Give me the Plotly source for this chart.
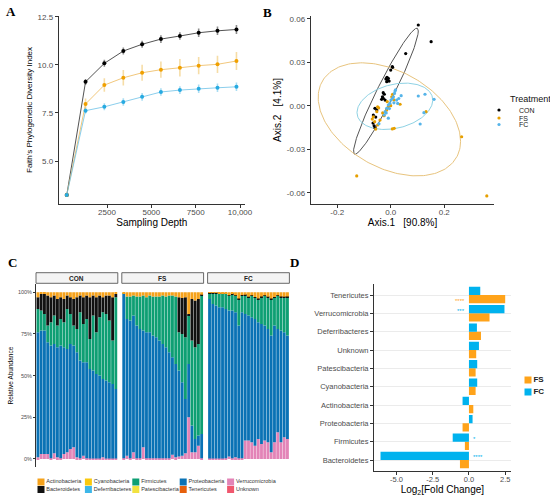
import numpy as np
import plotly.graph_objects as go

FONT = "Liberation Sans, Arial, sans-serif"
W, H = 550, 497

# ---------------- A: rarefaction, Faith's PD ----------------
depth = [230, 1290, 2350, 3420, 4480, 5540, 6610, 7670, 8730, 9800]
pd_con = [3.24, 9.12, 10.08, 10.72, 11.07, 11.34, 11.50, 11.67, 11.77, 11.84]
pd_fs = [3.24, 7.97, 8.95, 9.33, 9.59, 9.75, 9.85, 9.96, 10.03, 10.20]
pd_fc = [3.24, 7.62, 7.82, 8.07, 8.34, 8.59, 8.69, 8.76, 8.81, 8.86]
se_con = [0.05, 0.15, 0.18, 0.18, 0.18, 0.20, 0.20, 0.22, 0.22, 0.23]
se_fs = [0.05, 0.28, 0.35, 0.40, 0.42, 0.42, 0.45, 0.45, 0.45, 0.47]
se_fc = [0.05, 0.15, 0.18, 0.20, 0.20, 0.20, 0.20, 0.22, 0.22, 0.22]

# ---------------- B: PCoA ----------------
con_x = [0.103, 0.151, 0.056, 0.006, 0.000, 0.007, -0.014, -0.009, -0.011, -0.006, -0.015, -0.018, -0.028,
         -0.024, -0.031, -0.028, -0.021, -0.034, -0.059, -0.052, -0.065, -0.056, -0.062, -0.059, -0.066]
con_y = [0.0557, 0.0442, 0.0360, 0.0270, 0.0246, 0.0265, 0.0196, 0.0189, 0.0177, 0.0170, 0.0166, 0.0185, 0.0090,
         0.0079, 0.0062, 0.0051, 0.0039, 0.0044, -0.0018, -0.0030, -0.0064, -0.0078, -0.0138, -0.0152, -0.0120]
fs_x = [-0.127, 0.359, 0.265, 0.132, 0.035, 0.006, -0.049, -0.045, -0.052, -0.065, -0.069, -0.040, -0.049,
        -0.056, -0.013, -0.009, -0.015, 0.004, 0.007, 0.013, -0.025, 0.000, -0.030, 0.012, -0.060]
fs_y = [-0.0484, -0.0622, -0.0214, -0.0041, 0.0010, -0.0160, -0.0007, -0.0015, -0.0041, -0.0076, -0.0092, -0.0099, -0.0133,
        -0.0161, 0.0028, -0.0007, -0.0030, 0.0062, 0.0079, -0.0156, -0.0069, 0.0000, -0.0050, 0.0040, -0.0110]
fc_x = [0.016, 0.014, 0.010, 0.006, 0.001, -0.003, -0.009, -0.015, -0.021, -0.017, -0.024, 0.039, 0.026,
        0.103, 0.128, 0.162, 0.124, 0.110, -0.044, -0.009, 0.022, 0.018, 0.012, -0.005, 0.030]
fc_y = [0.0101, 0.0085, 0.0062, 0.0050, 0.0039, 0.0016, 0.0005, -0.0018, -0.0041, -0.0050, -0.0064, 0.0069, 0.0016,
        0.0067, 0.0079, 0.0044, -0.0048, -0.0126, -0.0125, -0.0086, 0.0039, 0.0110, 0.0020, -0.0020, 0.0050]
# 95% ellipses: centre, half-range on each axis, phase between x and y
ell_cx = [-0.018, -0.005, 0.0155]
ell_cy = [0.010, -0.0094, -0.0004]
ell_rx = [0.121, 0.266, 0.1415]
ell_ry = [0.0435, 0.039, 0.016]
ell_phase = [0.30, 1.97, 1.30]

# ---------------- C: relative abundance (%) per sample ----------------
con_verruco = [1, 3, 3, 3, 0.5, 3.5, 1, 0.5, 3, 4, 6, 7, 1, 0.5, 2, 0.5, 0.3, 0.3, 0.3, 0.3, 1, 0.3, 0.3, 0.3, 0.3]
con_proteo = [75, 74, 74, 67, 67.5, 65.5, 66, 67.5, 64, 62, 63, 61, 63, 58.5, 56, 57.5, 53.7, 52.7, 50.7, 49.7, 47,
              46.7, 45.7, 44.7, 41.7]
con_firmi = [14, 12, 10, 10, 14, 17, 13, 16, 15, 24, 18, 12, 14, 29, 23, 26, 18, 33, 25, 35, 40, 40, 37, 26, 55]
con_bacter = [7, 10, 12, 18, 15, 12, 16, 13, 14, 8, 10, 16, 19, 10, 16, 14, 25, 12, 21, 13, 9, 11, 15, 26, 2]
con_actino = [3, 1, 1, 2, 3, 2, 4, 3, 4, 2, 3, 4, 3, 2, 3, 2, 3, 2, 3, 2, 3, 2, 2, 3, 1]

fs_verruco = [0.5, 2, 0.5, 4, 0.5, 0.5, 7, 0.5, 0.5, 0.5, 0.5, 0.5, 0.5, 0.5, 0.5, 2.5, 1, 1.5, 2, 3.5, 25, 4, 4, 8, 0.5]
fs_proteo = [98.5, 82, 82.5, 82, 79.5, 77.5, 70, 75.5, 75.5, 73.5, 72.5, 70.5, 68.5, 66.5, 63.5, 58.5, 56, 51.5, 44,
             32.5, 32, 16, 8, 6, 14.5]
fs_firmi = [0.5, 13.5, 14.5, 12, 17.5, 19.5, 21, 21, 22, 23.5, 24.5, 26.5, 29, 30.5, 34, 37, 40.5, 23, 29, 37, 29, 51,
            55, 55, 83]
fs_bacter = [0, 0, 0, 0, 0, 0, 0, 0, 0, 0, 0, 0, 0, 0, 0, 0, 0, 21, 21.5, 24, 1, 25, 28, 27, 0.5]
fs_actino = [0.5, 2.5, 2.5, 2, 2.5, 2.5, 2, 3, 2, 2.5, 2.5, 2.5, 2, 2.5, 2, 2, 2.5, 3, 3.5, 3, 13, 4, 5, 4, 1.5]

fc_verruco = [0.3, 0.3, 0.3, 0.3, 0.3, 0.5, 1.5, 0.5, 1, 0.5, 0.5, 11, 11, 10, 8, 12, 9, 11, 10, 4, 10, 16, 10, 13, 12]
fc_proteo = [95.7, 92.7, 91.7, 90.7, 90.7, 89.5, 87.5, 88.5, 87, 79.5, 87.5, 76, 75, 75, 76, 70, 72, 69, 68, 70, 70,
             62, 67, 63, 62]
fc_firmi = [3.5, 6.5, 7.5, 8.3, 8, 9, 9, 9.5, 10, 16, 10, 11, 11, 13, 13, 14, 16, 18, 19, 22, 17, 20, 20, 21, 23]
fc_bacter = [0.2, 0.2, 0.2, 0.2, 0.5, 0.2, 0.2, 1, 0.2, 0.2, 0.3, 0.5, 0.3, 0.2, 0.2, 0.2, 0.5, 0.2, 0.3, 0.2, 0.2,
             0.2, 0.5, 0.3, 0.5]
fc_actino = [0.3, 0.3, 0.3, 0.5, 0.5, 0.8, 1.8, 0.5, 1.8, 3.8, 1.7, 1.5, 2.7, 1.8, 2.8, 3.8, 2.5, 1.8, 2.7, 3.8, 2.8,
             1.8, 2.5, 2.7, 2.5]

phyla = ["Actinobacteria", "Bacteroidetes", "Cyanobacteria", "Deferribacteres", "Firmicutes",
         "Patescibacteria", "Proteobacteria", "Tenericutes", "Verrucomicrobia", "Unknown"]
phylum_colors = ["#F5A21C", "#111111", "#F9C80E", "#3DB7E9", "#0E9F73",
                 "#F2E240", "#0A72B5", "#E6600C", "#E384B7", "#F0576E"]
stack_order = ["Verrucomicrobia", "Proteobacteria", "Firmicutes", "Bacteroidetes", "Actinobacteria"]

# ---------------- D: log2 fold change vs CON ----------------
d_phyla = ["Bacteroidetes", "Firmicutes", "Proteobacteria", "Actinobacteria", "Cyanobacteria",
           "Patescibacteria", "Unknown", "Deferribacteres", "Verrucomicrobia", "Tenericutes"]
lfc_fs = [-0.62, -0.28, -0.44, 0.30, 0.46, 0.46, 0.50, 0.83, 1.42, 2.50]
lfc_fc = [-6.10, -1.12, 0.25, -0.44, 0.57, 0.57, 0.69, 0.55, 2.45, 0.78]
sig_fs = ["", "", "", "", "", "", "", "", "", "****"]
sig_fc = ["****", "*", "", "", "", "", "", "", "***", ""]

grp_names = ["CON", "FS", "FC"]
grp_colors = ["#000000", "#E69F00", "#56B4E9"]


def px_x(p):
    return p / W


def px_y(p):
    return 1 - p / H


fig = go.Figure()

# A
line_cols = ["rgba(40,40,40,0.8)", "rgba(236,180,80,0.75)", "rgba(100,190,230,0.75)"]
err_cols = ["rgba(0,0,0,0.45)", "rgba(230,159,0,0.35)", "rgba(40,170,225,0.4)"]
mark_cols = ["#000000", "#F0A000", "#27AAE1"]
for vals, se, lc, ec, mc in zip([pd_con, pd_fs, pd_fc], [se_con, se_fs, se_fc], line_cols, err_cols, mark_cols):
    fig.add_trace(go.Scatter(
        x=depth, y=vals, mode="lines+markers",
        line=dict(color=lc, width=1),
        marker=dict(color=mc, size=4),
        error_y=dict(type="data", array=se, color=ec, thickness=1.6, width=0),
        xaxis="x", yaxis="y", showlegend=False))

# B
t = np.linspace(0, 2 * np.pi, 200)
ell_cols = ["#555555", "#E8C47E", "#8ED2E4"]
for i in range(3):
    fig.add_trace(go.Scatter(
        x=ell_cx[i] + ell_rx[i] * np.cos(t),
        y=ell_cy[i] + ell_ry[i] * np.cos(t - ell_phase[i]),
        mode="lines", line=dict(color=ell_cols[i], width=1),
        xaxis="x2", yaxis="y2", showlegend=False, hoverinfo="skip"))
legend_ids = ["legend", "legend2", "legend3"]
for i, (px_, py_) in enumerate([(con_x, con_y), (fs_x, fs_y), (fc_x, fc_y)]):
    fig.add_trace(go.Scatter(
        x=px_, y=py_, mode="markers", name=grp_names[i],
        marker=dict(color=grp_colors[i], size=3.2),
        xaxis="x2", yaxis="y2", legend=legend_ids[i]))

# C
samples = list(range(1, 26))
abund = {
    "CON": [con_verruco, con_proteo, con_firmi, con_bacter, con_actino],
    "FS": [fs_verruco, fs_proteo, fs_firmi, fs_bacter, fs_actino],
    "FC": [fc_verruco, fc_proteo, fc_firmi, fc_bacter, fc_actino],
}
for gi, g in enumerate(grp_names):
    vals = np.array(abund[g]) / 100.0
    base = np.vstack([np.zeros(len(samples)), np.cumsum(vals, axis=0)[:-1]])
    for k, name in enumerate(stack_order):
        fig.add_trace(go.Bar(
            x=samples, y=vals[k], base=base[k], width=0.88,
            marker=dict(color=phylum_colors[phyla.index(name)], line=dict(width=0)),
            xaxis=f"x{3 + gi}", yaxis="y3", showlegend=False, name=name))

# C key (two rows, filled column-wise like ggplot)
fig.add_trace(go.Scatter(
    x=[i // 2 for i in range(len(phyla))], y=[1 - i % 2 for i in range(len(phyla))],
    mode="markers+text", text=phyla, textposition="middle right",
    textfont=dict(family=FONT, size=5.5, color="#333333"),
    marker=dict(symbol="square", size=7, color=phylum_colors),
    xaxis="x7", yaxis="y7", showlegend=False, cliponaxis=False, hoverinfo="skip"))

# D
d_cols = ["#FFA31A", "#00B2EE"]
for vals, col, off, nm in [(lfc_fs, d_cols[0], -0.45, "FS"), (lfc_fc, d_cols[1], 0.0, "FC")]:
    fig.add_trace(go.Bar(
        y=d_phyla, x=vals, orientation="h", width=0.45, offset=off,
        marker=dict(color=col, line=dict(width=0)), name=nm,
        xaxis="x6", yaxis="y6", showlegend=False))
fig.add_trace(go.Scatter(
    x=[0, 0], y=[1, 0], mode="markers+text", text=["<b>FS</b>", "<b>FC</b>"], textposition="middle right",
    textfont=dict(family=FONT, size=8, color="#222222"),
    marker=dict(symbol="square", size=7, color=d_cols),
    xaxis="x8", yaxis="y8", showlegend=False, cliponaxis=False, hoverinfo="skip"))

annotations = []
for sigs, vals, side, col in [(sig_fs, lfc_fs, -0.225, d_cols[0]), (sig_fc, lfc_fc, 0.225, d_cols[1])]:
    for j, s in enumerate(sigs):
        if not s:
            continue
        pos = vals[j] > 0
        annotations.append(dict(
            x=-0.15 if pos else 0.15, y=j + side, xref="x6", yref="y6", text=s, showarrow=False,
            xanchor="right" if pos else "left", yanchor="middle", yshift=-1.5,
            font=dict(family=FONT, size=6, color=col)))

# panel letters
for letter, (lx, ly) in zip("ABCD", [(10.5, 11.5), (267.5, 12), (12.5, 262), (294, 262)]):
    annotations.append(dict(x=px_x(lx), y=px_y(ly), xref="paper", yref="paper", text=f"<b>{letter}</b>",
                            showarrow=False, xanchor="center", yanchor="middle",
                            font=dict(family="Liberation Serif, Times New Roman, serif", size=13, color="#000")))

# legend heading for B
annotations.append(dict(x=px_x(508), y=px_y(99), xref="paper", yref="paper", text="Treatment",
                        showarrow=False, xanchor="left", yanchor="middle",
                        font=dict(family=FONT, size=9, color="#111")))

# facet strips
shapes = []
strip_y0, strip_y1 = px_y(283.3), px_y(272.7)
for gi, g in enumerate(grp_names):
    shapes.append(dict(type="rect", xref=f"x{3 + gi} domain", yref="paper", x0=0, x1=1, y0=strip_y0, y1=strip_y1,
                       fillcolor="#F4F4F4", line=dict(color="#444444", width=0.8)))
    annotations.append(dict(x=0.5, y=(strip_y0 + strip_y1) / 2, xref=f"x{3 + gi} domain", yref="paper",
                            text=f"<b>{g}</b>", showarrow=False, font=dict(family=FONT, size=6.5, color="#222")))

tick_font = dict(family=FONT, size=8, color="#4D4D4D")
axis_base = dict(showgrid=False, zeroline=False, showline=True, linecolor="#333333", linewidth=1,
                 ticks="outside", ticklen=3, tickcolor="#333333", tickfont=tick_font)
hidden = dict(visible=False, showgrid=False, zeroline=False)

fig.update_layout(
    width=W, height=H,
    margin=dict(l=0, r=0, t=0, b=0, autoexpand=False),
    paper_bgcolor="white", plot_bgcolor="white",
    font=dict(family=FONT, color="#000"),
    barmode="overlay",
    xaxis=dict(axis_base, domain=[px_x(58.7), px_x(245)], range=[-224, 10282], anchor="y",
               tickvals=[2500, 5000, 7500, 10000], ticktext=["2500", "5000", "7500", "10,000"],
               ticklabelstandoff=-3,
               title=dict(text="Sampling Depth", font=dict(size=10), standoff=0)),
    yaxis=dict(axis_base, domain=[px_y(204), px_y(16)], range=[2.77, 12.54], anchor="x",
               tickvals=[5, 7.5, 10, 12.5], ticktext=["5.0", "7.5", "10.0", "12.5"],
               title=dict(text="Faith's Phylogenetic Diversity Index", font=dict(size=8), standoff=3)),
    xaxis2=dict(axis_base, domain=[px_x(310.7), px_x(494.3)], range=[-0.299, 0.387], anchor="y2",
                tickvals=[-0.2, 0, 0.2], ticktext=["-0.2", "0.0", "0.2"],
                ticklabelstandoff=-3,
                title=dict(text="Axis.1   [90.8%]", font=dict(size=10), standoff=0)),
    yaxis2=dict(axis_base, domain=[px_y(204), px_y(16)], range=[-0.0678, 0.0619], anchor="x2",
                tickvals=[-0.06, -0.03, 0, 0.03, 0.06], ticktext=["-0.06", "-0.03", "0.00", "0.03", "0.06"],
                title=dict(text="Axis.2   [4.1%]", font=dict(size=10), standoff=3)),
    xaxis3=dict(hidden, domain=[px_x(36), px_x(117.8)], range=[0.4, 25.6], anchor="y3"),
    xaxis4=dict(hidden, domain=[px_x(121.8), px_x(203.6)], range=[0.4, 25.6], anchor="y3"),
    xaxis5=dict(hidden, domain=[px_x(207.6), px_x(289.4)], range=[0.4, 25.6], anchor="y3"),
    yaxis3=dict(axis_base, domain=[px_y(467.3), px_y(283.9)], range=[-0.05, 1.05], anchor="x3",
                linewidth=0.8, ticklen=2,
                tickvals=[0, 0.25, 0.5, 0.75, 1], ticktext=["0%", "25%", "50%", "75%", "100%"],
                tickfont=dict(family=FONT, size=5.5, color="#4D4D4D"),
                title=dict(text="Relative Abundance", font=dict(size=6.5), standoff=3)),
    xaxis6=dict(axis_base, domain=[px_x(374), px_x(510.7)], range=[-6.55, 2.88], anchor="y6",
                tickvals=[-5, -2.5, 0, 2.5], ticktext=["-5.0", "-2.5", "0.0", "2.5"],
                tickfont=dict(family=FONT, size=7.5, color="#4D4D4D"), ticklabelstandoff=-2,
                title=dict(text="Log<sub>2</sub>[Fold Change]", font=dict(size=10), standoff=2)),
    yaxis6=dict(axis_base, domain=[px_y(471), px_y(284)], anchor="x6", type="category",
                categoryorder="array", categoryarray=d_phyla, range=[-0.6, 9.6],
                showgrid=True, gridcolor="#EBEBEB", gridwidth=1,
                tickfont=dict(family=FONT, size=7.5, color="#4D4D4D")),
    xaxis7=dict(hidden, domain=[px_x(17.3), px_x(254.3)], range=[-0.5, 4.5], anchor="y7"),
    yaxis7=dict(hidden, domain=[px_y(493.25), px_y(478.25)], range=[-0.5, 1.5], anchor="x7"),
    xaxis8=dict(hidden, domain=[px_x(520), px_x(536)], range=[-0.5, 0.5], anchor="y8"),
    yaxis8=dict(hidden, domain=[px_y(398), px_y(374)], range=[-0.5, 1.5], anchor="x8"),
    annotations=annotations,
    shapes=shapes,
)

legend_common = dict(xanchor="left", yanchor="middle", bgcolor="rgba(0,0,0,0)", borderwidth=0, indentation=-15,
                     font=dict(family=FONT, size=7, color="#222"))
fig.update_layout(
    legend=dict(legend_common, x=px_x(494), y=px_y(110)),
    legend2=dict(legend_common, x=px_x(494), y=px_y(118)),
    legend3=dict(legend_common, x=px_x(494), y=px_y(124.5)),
)

# the page body keeps its default 8px margin otherwise
fig.write_html("out.html", config={"displayModeBar": False},
               post_script="document.body.style.margin = '0';")
